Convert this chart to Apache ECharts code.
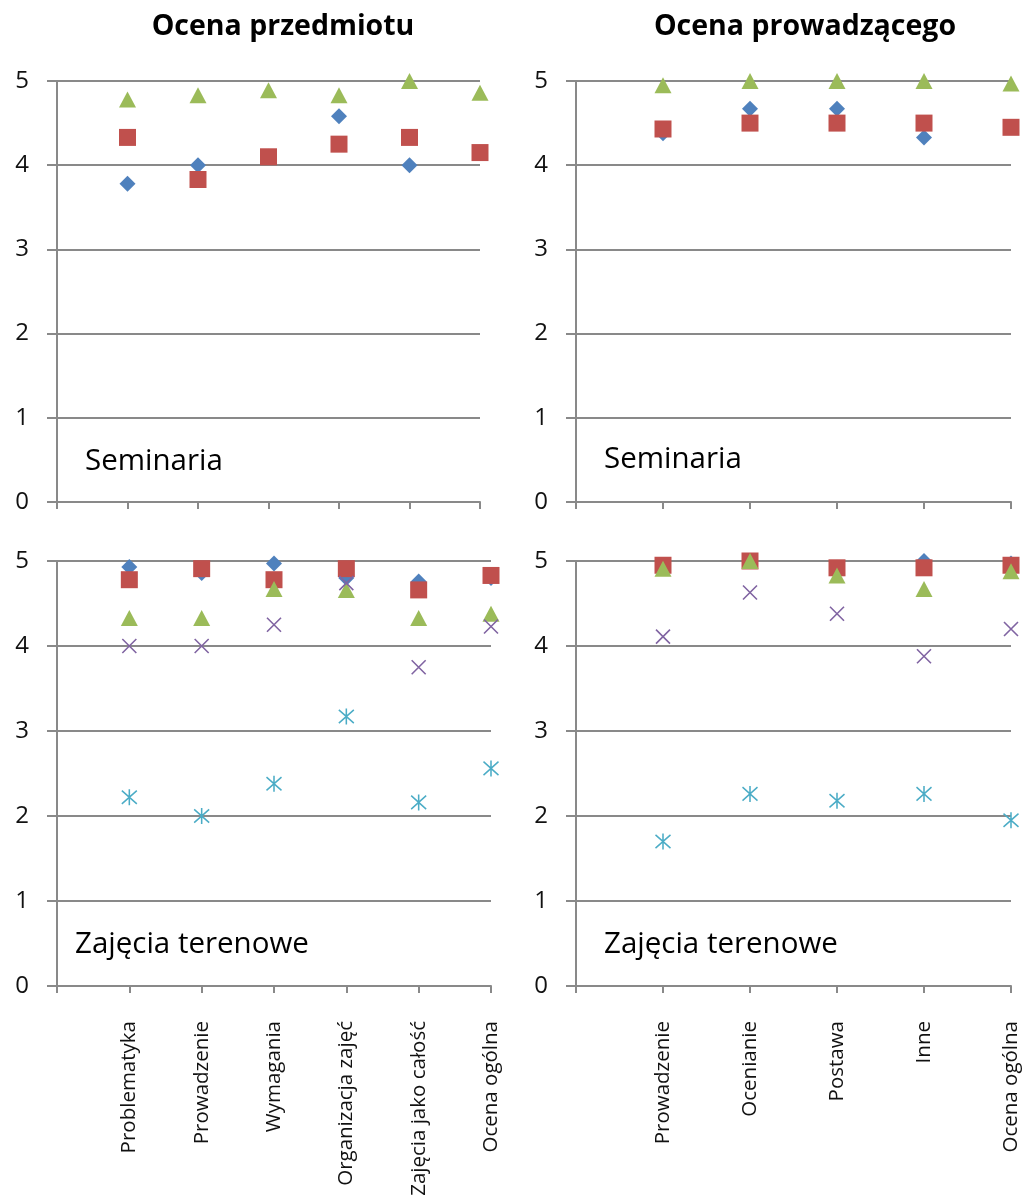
<!DOCTYPE html>
<html>
<head>
<meta charset="utf-8">
<script src="https://cdn.jsdelivr.net/npm/echarts@6/dist/echarts.min.js"></script>
<style>
  html, body { margin: 0; padding: 0; background: #fff; }
  #chart { width: 1023px; height: 1201px; }
</style>
</head>
<body>
<div id="chart"></div>
<script>
const subjectCats = ['Problematyka', 'Prowadzenie', 'Wymagania', 'Organizacja zajęć', 'Zajęcia jako całość', 'Ocena ogólna'];
const teacherCats = ['Prowadzenie', 'Ocenianie', 'Postawa', 'Inne', 'Ocena ogólna'];

// Seminaria - ocena przedmiotu
const semSubjBlue = [3.78, 4.0, 4.1, 4.58, 4.0, 4.15];
const semSubjRed = [4.33, 3.83, 4.1, 4.25, 4.33, 4.15];
const semSubjGreen = [4.78, 4.83, 4.89, 4.83, 5.0, 4.86];

// Seminaria - ocena prowadzącego
const semTeachBlue = [4.38, 4.67, 4.67, 4.33, 4.45];
const semTeachRed = [4.43, 4.5, 4.5, 4.5, 4.45];
const semTeachGreen = [4.95, 5.0, 5.0, 5.0, 4.97];

// Zajęcia terenowe - ocena przedmiotu
const fieldSubjBlue = [4.93, 4.86, 4.97, 4.8, 4.76, 4.8];
const fieldSubjRed = [4.78, 4.91, 4.78, 4.91, 4.66, 4.83];
const fieldSubjGreen = [4.33, 4.33, 4.67, 4.66, 4.33, 4.38];
const fieldSubjPurple = [4.0, 4.0, 4.25, 4.74, 3.75, 4.23];
const fieldSubjCyan = [2.22, 2.0, 2.38, 3.17, 2.16, 2.56];

// Zajęcia terenowe - ocena prowadzącego
const fieldTeachBlue = [4.95, 5.0, 4.92, 5.0, 4.97];
const fieldTeachRed = [4.95, 5.0, 4.92, 4.92, 4.95];
const fieldTeachGreen = [4.91, 5.0, 4.83, 4.67, 4.88];
const fieldTeachPurple = [4.11, 4.63, 4.38, 3.88, 4.2];
const fieldTeachCyan = [1.7, 2.26, 2.18, 2.26, 1.95];

const yTicks = [0, 1, 2, 3, 4, 5];

const FONT = '"Open Sans", sans-serif';
const GRAY = '#898989';
const colors = {
  blue: '#4F81BD',
  red: '#C0504D',
  green: '#9BBB59',
  purple: '#8064A2',
  cyan: '#4BACC6',
};

const markers = {
  blue: { symbol: 'diamond', symbolSize: [16, 16] },
  red: { symbol: 'rect', symbolSize: [17, 17] },
  green: { symbol: 'triangle', symbolSize: [17, 16] },
  purple: { symbol: 'path://M0,0L10,10M10,0L0,10', symbolSize: [14, 14], stroke: true },
  cyan: { symbol: 'path://M0,0L10,10M10,0L0,10M5,-1L5,11', symbolSize: [15, 16], stroke: true },
};

const grids = [
  { left: 57, top: 81, width: 423, height: 421 },
  { left: 576, top: 81, width: 435, height: 421 },
  { left: 57, top: 561, width: 434, height: 425 },
  { left: 576, top: 561, width: 435, height: 425 },
];

const xAxisFor = (gridIndex, cats, showLabels) => ({
  type: 'category',
  gridIndex,
  data: [''].concat(cats),
  boundaryGap: false,
  axisLine: { lineStyle: { color: GRAY, width: 2 } },
  axisTick: { show: true, length: 7, lineStyle: { color: GRAY, width: 2 } },
  axisLabel: {
    show: showLabels,
    interval: 0,
    rotate: 90,
    margin: 35,
    fontFamily: FONT,
    fontSize: 20.5,
    color: '#111',
  },
  splitLine: { show: false },
});

const yAxisFor = (gridIndex) => ({
  type: 'value',
  gridIndex,
  min: 0,
  max: 5,
  interval: 1,
  axisLine: { show: true, lineStyle: { color: GRAY, width: 2 } },
  axisTick: { show: true, length: 10, lineStyle: { color: GRAY, width: 2 } },
  axisLabel: {
    margin: 28,
    fontFamily: FONT,
    fontSize: 24,
    color: '#111',
    formatter: (v) => (yTicks.includes(v) ? `${v}` : ''),
  },
  splitLine: { show: true, lineStyle: { color: GRAY, width: 2 } },
});

const seriesFor = (gridIndex, key, values) => {
  const m = markers[key];
  return {
    type: 'scatter',
    xAxisIndex: gridIndex,
    yAxisIndex: gridIndex,
    symbol: m.symbol,
    symbolSize: m.symbolSize,
    data: values.map((v, i) => [i + 1, v]),
    itemStyle: m.stroke
      ? { color: 'rgba(0,0,0,0)', borderColor: colors[key], borderWidth: 1.6, opacity: 1 }
      : { color: colors[key], opacity: 1 },
    silent: true,
  };
};

const panels = [
  [0, { blue: semSubjBlue, red: semSubjRed, green: semSubjGreen }],
  [1, { blue: semTeachBlue, red: semTeachRed, green: semTeachGreen }],
  [2, { blue: fieldSubjBlue, red: fieldSubjRed, green: fieldSubjGreen, purple: fieldSubjPurple, cyan: fieldSubjCyan }],
  [3, { blue: fieldTeachBlue, red: fieldTeachRed, green: fieldTeachGreen, purple: fieldTeachPurple, cyan: fieldTeachCyan }],
];

const series = [];
panels.forEach(([gi, set]) => {
  Object.keys(set).forEach((key) => series.push(seriesFor(gi, key, set[key])));
});

const headStyle = { fontFamily: FONT, fontSize: 28.5, fontWeight: 'bold', color: '#000' };
const noteStyle = { fontFamily: FONT, fontSize: 29.5, fontWeight: 'normal', color: '#000' };

const option = {
  animation: false,
  backgroundColor: '#fff',
  title: [
    { text: 'Ocena przedmiotu', left: 278, top: 7, textAlign: 'center', textStyle: headStyle },
    { text: 'Ocena prowadzącego', left: 800, top: 7, textAlign: 'center', textStyle: headStyle },
    { text: 'Seminaria', left: 80, top: 442, textStyle: noteStyle },
    { text: 'Seminaria', left: 599, top: 440, textStyle: noteStyle },
    { text: 'Zajęcia terenowe', left: 70, top: 925, textStyle: noteStyle },
    { text: 'Zajęcia terenowe', left: 599, top: 925, textStyle: noteStyle },
  ],
  grid: grids,
  xAxis: [
    xAxisFor(0, subjectCats, false),
    xAxisFor(1, teacherCats, false),
    xAxisFor(2, subjectCats, true),
    xAxisFor(3, teacherCats, true),
  ],
  yAxis: [yAxisFor(0), yAxisFor(1), yAxisFor(2), yAxisFor(3)],
  series,
};

const chart = echarts.init(document.getElementById('chart'), null, { renderer: 'canvas' });
chart.setOption(option);
</script>
</body>
</html>
